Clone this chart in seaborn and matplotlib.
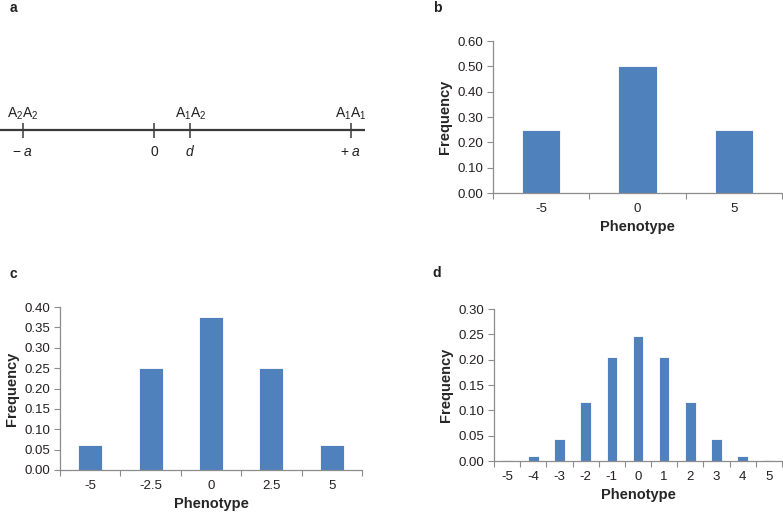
import matplotlib
matplotlib.use("Agg")
import matplotlib.pyplot as plt
import seaborn as sns
from matplotlib.ticker import FixedLocator, FormatStrFormatter

# ------------------------------
# Data
# ------------------------------
# panel a: schematic genotype scale
scale_points = [0.0, 4.0, 5.1, 10.0]
scale_below = ["\u2212 $\\mathit{a}$", "0", r"$\mathit{d}$", "+ $\\mathit{a}$"]
scale_above = [r"A$_2$A$_2$", "", r"A$_1$A$_2$", r"A$_1$A$_1$"]

# panel b: one locus
phen_b = ["-5", "0", "5"]
freq_b = [0.25, 0.50, 0.25]

# panel c: two loci
phen_c = ["-5", "-2.5", "0", "2.5", "5"]
freq_c = [0.0625, 0.25, 0.375, 0.25, 0.0625]

# panel d: many loci
phen_d = ["-5", "-4", "-3", "-2", "-1", "0", "1", "2", "3", "4", "5"]
freq_d = [0.001, 0.010, 0.044, 0.117, 0.205, 0.246, 0.205, 0.117, 0.044, 0.010, 0.001]

BAR = "#4F81BD"
AXIS = "#8C8C8C"
TEXT = "#231F20"

sns.set_theme(style="white")
plt.rcParams["font.family"] = ["Liberation Sans", "DejaVu Sans"]
plt.rcParams["mathtext.fontset"] = "custom"
plt.rcParams["mathtext.rm"] = "Liberation Sans"
plt.rcParams["mathtext.it"] = "Liberation Sans:italic"
plt.rcParams["text.color"] = TEXT

W, H = 783, 512
fig = plt.figure(figsize=(W / 100, H / 100), dpi=100)


def px_axes(left, top, right, bottom):
    return fig.add_axes([left / W, 1 - bottom / H, (right - left) / W, (bottom - top) / H])


def bar_panel(ax, cats, vals, ymax, ystep):
    sns.barplot(x=cats, y=vals, order=cats, color=BAR, width=0.4, saturation=1,
                edgecolor="white", linewidth=0.6, ax=ax)
    n = len(cats)
    ax.set_xlim(-0.5, n - 0.5)
    ax.set_ylim(0, ymax)
    nticks = int(round(ymax / ystep)) + 1
    ax.yaxis.set_major_locator(FixedLocator([i * ystep for i in range(nticks)]))
    ax.yaxis.set_major_formatter(FormatStrFormatter("%.2f"))
    ax.xaxis.set_minor_locator(FixedLocator([i - 0.5 for i in range(n + 1)]))
    ax.tick_params(axis="x", which="major", length=0, pad=7, labelsize=9.5, colors=TEXT)
    ax.tick_params(axis="x", which="minor", length=4, width=0.8, color=AXIS, direction="out", bottom=True)
    ax.tick_params(axis="y", length=4, width=0.8, color=AXIS, direction="out", left=True,
                   pad=3, labelsize=9.5, labelcolor=TEXT)
    sns.despine(ax=ax)
    for s in ["left", "bottom"]:
        ax.spines[s].set_color(AXIS)
        ax.spines[s].set_linewidth(0.9)
    ax.set_xlabel("Phenotype", fontsize=10.5, fontweight="bold", labelpad=4)
    ax.set_ylabel("Frequency", fontsize=10.5, fontweight="bold", labelpad=4)


# ------------------------------
# Panel a
# ------------------------------
ax_a = px_axes(0, 100, 365, 175)
ax_a.set_xlim(-23 / 32.8, 10 + 14 / 32.8)
ax_a.set_ylim(-1.9, 1.3)
ax_a.axhline(0, color="#3A3A3A", lw=1.6)
ax_a.vlines(scale_points, -0.33, 0.33, color="#3A3A3A", lw=1.1)
for xp, lo, hi in zip(scale_points, scale_below, scale_above):
    ax_a.text(xp, -0.9, lo, ha="center", va="center", fontsize=10)
    if hi:
        ax_a.text(xp, 0.7, hi, ha="center", va="center", fontsize=10)
ax_a.axis("off")

# ------------------------------
# Panels b, c, d
# ------------------------------
ax_b = px_axes(493, 41, 782, 193)
bar_panel(ax_b, phen_b, freq_b, 0.60, 0.10)

ax_c = px_axes(60, 307, 362, 470)
bar_panel(ax_c, phen_c, freq_c, 0.40, 0.05)

ax_d = px_axes(494, 309, 782, 461)
bar_panel(ax_d, phen_d, freq_d, 0.30, 0.05)

for lab, x, y in [("a", 13, 8), ("b", 437, 8), ("c", 13, 274), ("d", 437, 273)]:
    fig.text(x / W, 1 - y / H, lab, fontsize=10, fontweight="bold", ha="center", va="center")

fig.savefig("out.png", dpi=100)
